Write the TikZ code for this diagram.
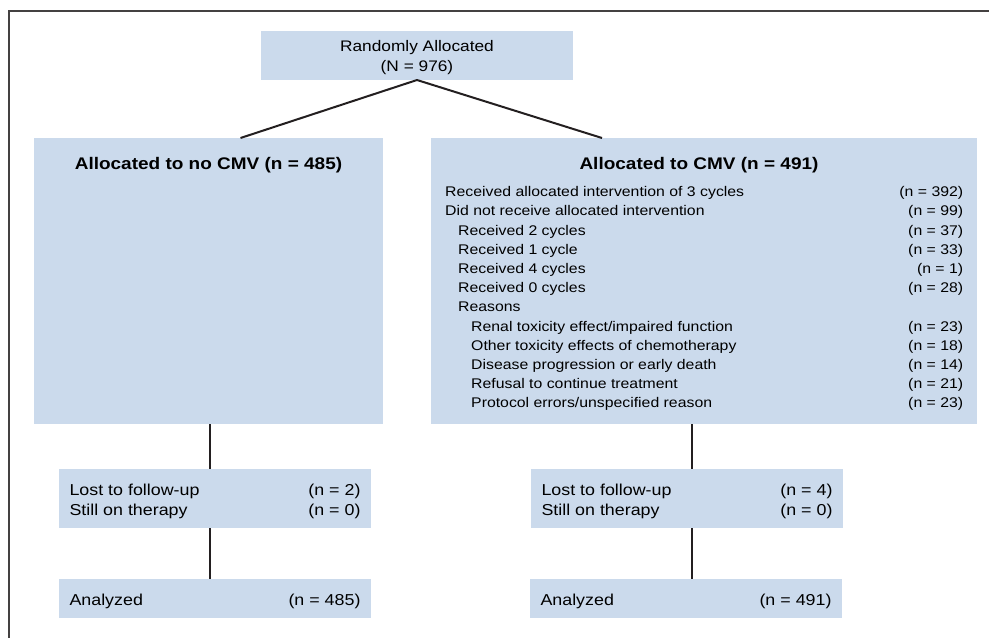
\documentclass[tikz,border=0pt]{standalone}
\usepackage{fontspec}
\setmainfont[FakeStretch=1.13]{Liberation Sans}
\usetikzlibrary{positioning,calc}
\definecolor{boxblue}{RGB}{203,218,236}
\definecolor{ink}{RGB}{35,31,32}

\newcommand{\stepin}{\hspace*{13pt}}
\newcommand{\padtop}{\rule{0pt}{20pt}}

\begin{document}
\begin{tikzpicture}[
    x=1pt,y=-1pt,
    font=\fontsize{14}{19.2}\selectfont,
    box/.style={fill=boxblue,draw=none,inner sep=0pt,outer sep=0pt},
    armbox/.style={box,minimum height=286pt},
    smallbox/.style={box,minimum width=312pt,font=\fontsize{15.8}{20}\selectfont},
    rows/.style={anchor=north west,inner sep=0pt},
    heading/.style={font=\fontsize{16.8}{19}\selectfont\bfseries},
    link/.style={draw=ink,line width=2pt},
    frame/.style={draw=ink!85,line width=1.3pt}
]
\path[use as bounding box] (0,0) rectangle (989,638);
\draw[frame] (989,11) -- (9,11) -- (9,638);

\node[box,minimum width=312pt,minimum height=49pt,align=center,
      font=\fontsize{15.3}{20.5}\selectfont] (random) at (417,55.5)
    {\rule{0pt}{15pt}Randomly Allocated\\(N = 976)};

\node[armbox,minimum width=349pt] (nocmv) at (208.5,281) {};
\node[heading] (nocmvhead) at (208.5,165.5) {Allocated to no CMV (n = 485)};

\node[armbox,minimum width=546pt] (cmv) at (704,281) {};
\node[heading] (cmvhead) at (699,165.5) {Allocated to CMV (n = 491)};
\node[rows] (cmvlist) at (445,183) {%
\begin{tabular*}{518pt}{@{}l@{\extracolsep{\fill}}r@{}}
Received allocated intervention of 3 cycles & (n = 392)\\
Did not receive allocated intervention & (n = 99)\\
\stepin Received 2 cycles & (n = 37)\\
\stepin Received 1 cycle & (n = 33)\\
\stepin Received 4 cycles & (n = 1)\\
\stepin Received 0 cycles & (n = 28)\\
\stepin Reasons & \\
\stepin\stepin Renal toxicity effect/impaired function & (n = 23)\\
\stepin\stepin Other toxicity effects of chemotherapy & (n = 18)\\
\stepin\stepin Disease progression or early death & (n = 14)\\
\stepin\stepin Refusal to continue treatment & (n = 21)\\
\stepin\stepin Protocol errors/unspecified reason & (n = 23)
\end{tabular*}};

% follow-up and analysis boxes under each arm
\node[smallbox,minimum height=59pt] (nocmvlost) at (215,498.5) {%
\begin{tabular*}{291pt}{@{}l@{\extracolsep{\fill}}r@{}}
\padtop Lost to follow-up & (n = 2)\\
Still on therapy & (n = 0)
\end{tabular*}};
\node[smallbox,minimum height=39pt] (nocmvdone) at (215,598.5) {%
\begin{tabular*}{291pt}{@{}l@{\extracolsep{\fill}}r@{}}
\padtop Analyzed & (n = 485)
\end{tabular*}};

\node[smallbox,minimum height=59pt] (cmvlost) at (687,498.5) {%
\begin{tabular*}{291pt}{@{}l@{\extracolsep{\fill}}r@{}}
\padtop Lost to follow-up & (n = 4)\\
Still on therapy & (n = 0)
\end{tabular*}};
\node[smallbox,minimum height=39pt] (cmvdone) at (686,598.5) {%
\begin{tabular*}{291pt}{@{}l@{\extracolsep{\fill}}r@{}}
\padtop Analyzed & (n = 491)
\end{tabular*}};

\coordinate (leftdrop) at (210,0);
\coordinate (rightdrop) at (692,0);

\draw[link] (random.south) -- ($(nocmv.north)+(32,0)$);
\draw[link] (random.south) -- ($(cmv.north)+(-102,0)$);
\draw[link] (leftdrop |- nocmv.south) -- (leftdrop |- nocmvlost.north);
\draw[link] (leftdrop |- nocmvlost.south) -- (leftdrop |- nocmvdone.north);
\draw[link] (rightdrop |- cmv.south) -- (rightdrop |- cmvlost.north);
\draw[link] (rightdrop |- cmvlost.south) -- (rightdrop |- cmvdone.north);
\end{tikzpicture}
\end{document}
